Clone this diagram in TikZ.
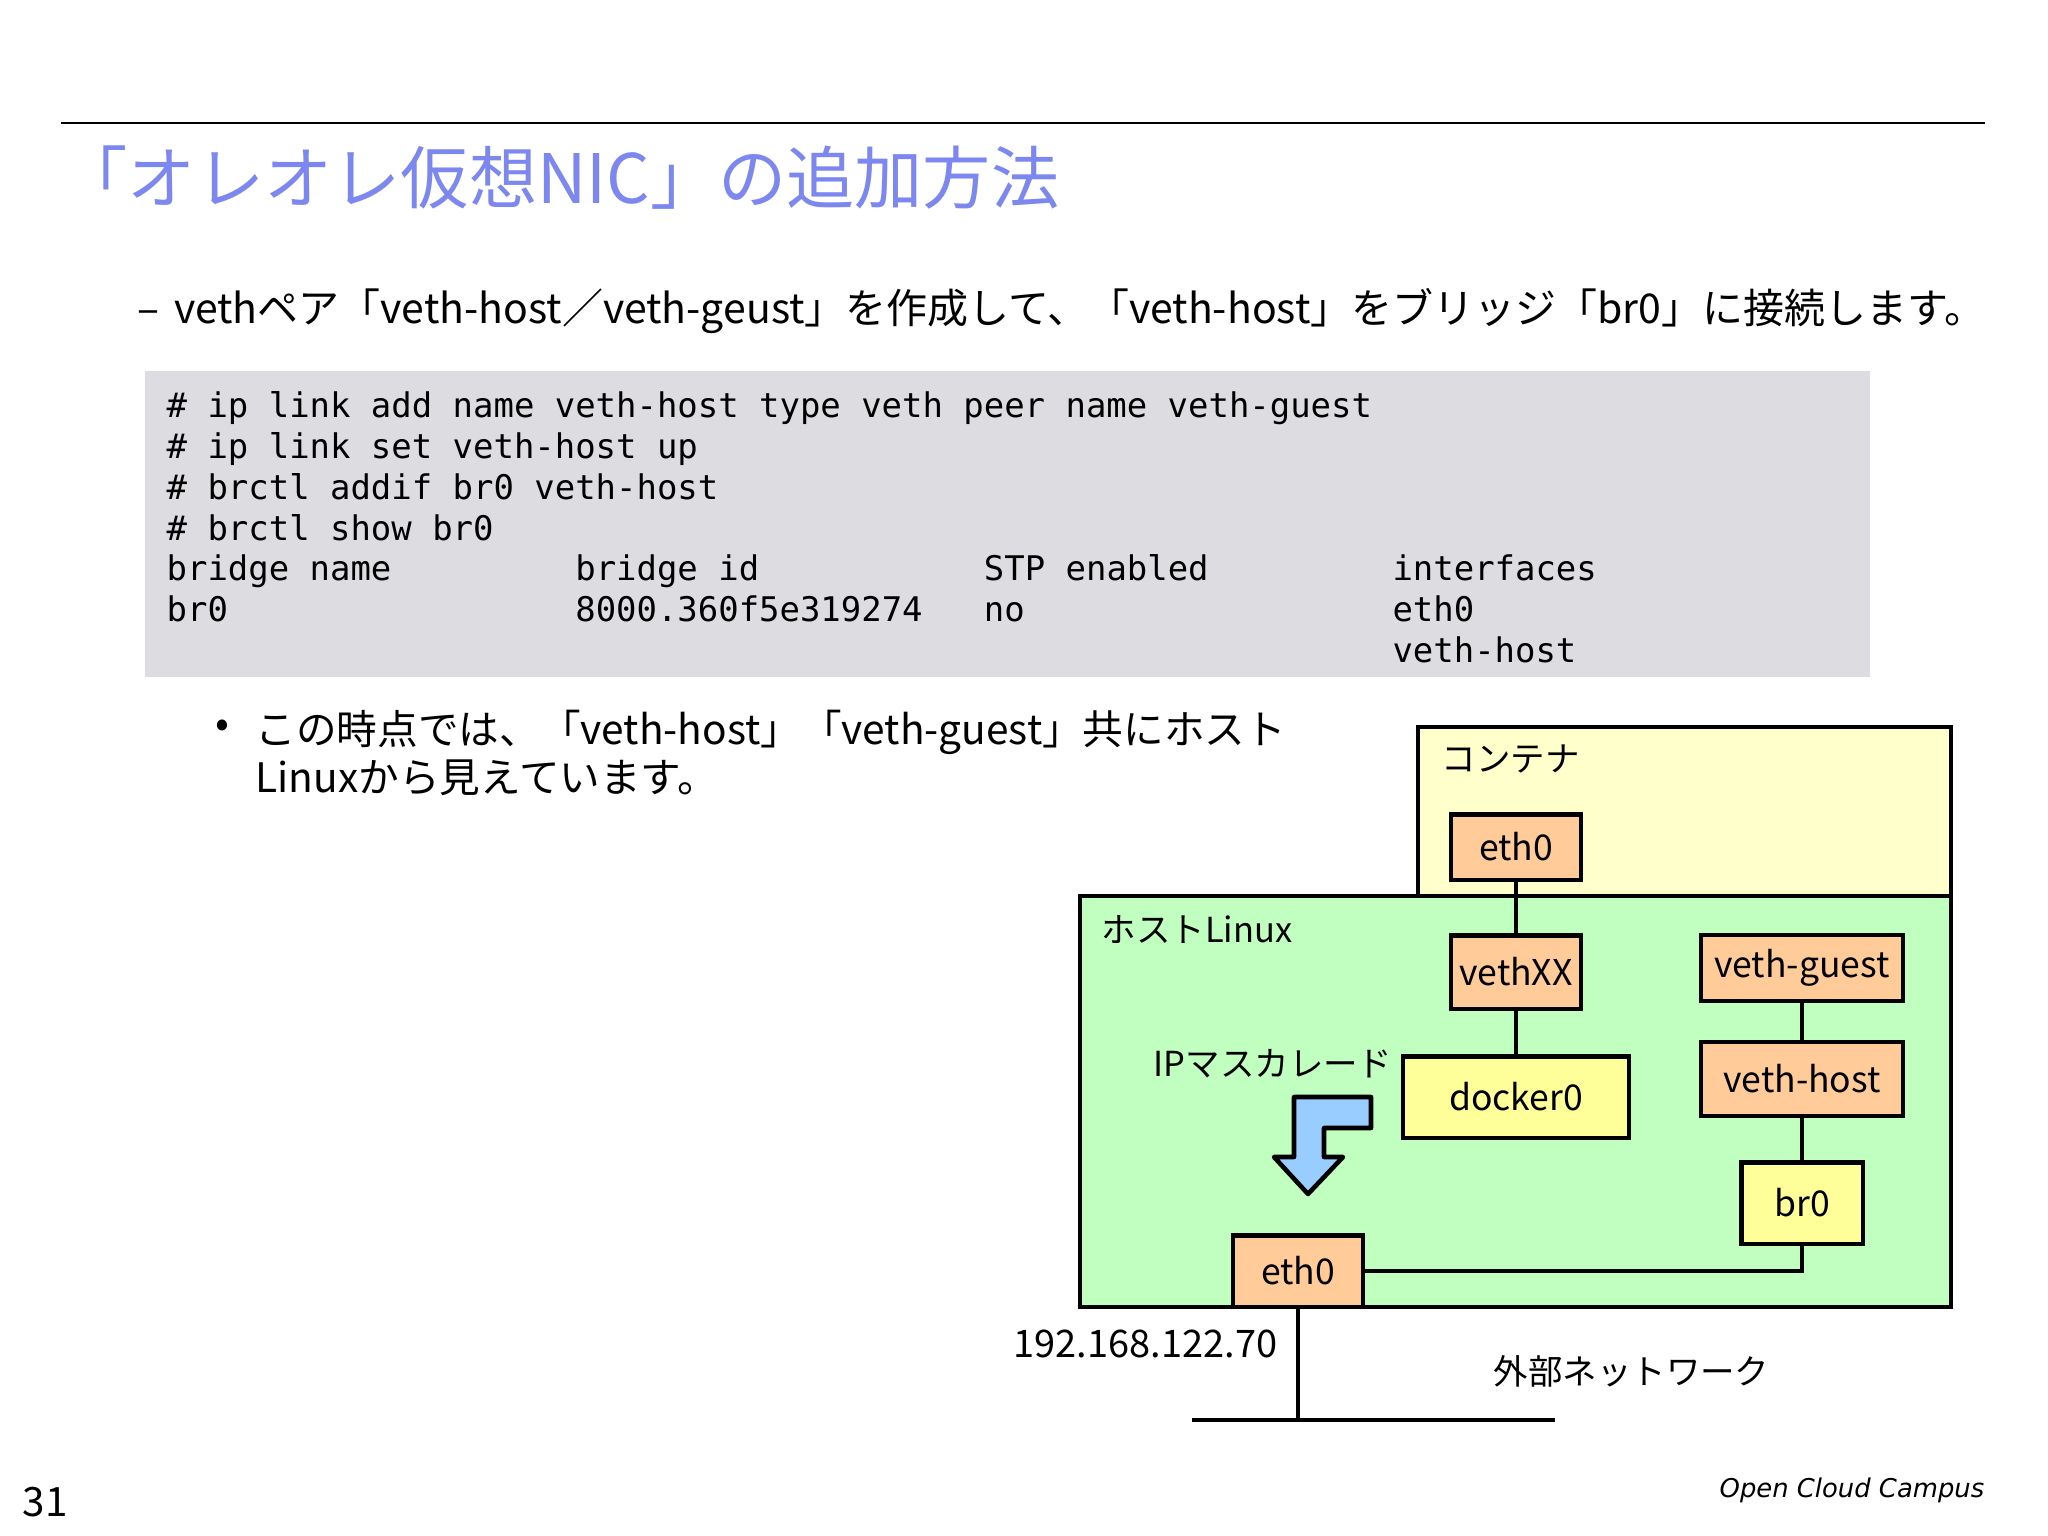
\documentclass[tikz,border=0pt]{standalone}
\usepackage{fontspec}
\setmainfont{Noto Sans CJK JP}
\setsansfont{Noto Sans CJK JP}
\setmonofont{DejaVu Sans Mono}
\newfontfamily\footfont{DejaVu Sans}

\definecolor{titleblue}{RGB}{125,135,240}
\definecolor{codegray}{RGB}{221,220,224}
\definecolor{contyellow}{RGB}{255,255,204}
\definecolor{hostgreen}{RGB}{192,255,192}
\definecolor{nicorange}{RGB}{255,204,153}
\definecolor{bryellow}{RGB}{255,255,153}
\definecolor{masqblue}{RGB}{153,204,255}

\newcommand\bodysize{\fontsize{11.65}{13.7}\selectfont}
\newcommand\figsize{\fontsize{9.8}{12}\selectfont}
\newcommand\boxsize{\fontsize{10.1}{12}\selectfont}
\newcommand\tcell[1]{\makebox[20\fontcharwd\font`0][l]{#1}}

\begin{document}
\begin{tikzpicture}[x=0.01cm, y=-0.01cm,
    lbl/.style={anchor=west, inner sep=0pt, font=\bodysize},
    figlbl/.style={lbl, font=\figsize},
    nic/.style={draw, line width=1.15pt, fill=nicorange, inner sep=0pt, font=\boxsize},
    brg/.style={nic, fill=bryellow},
    link/.style={line width=1.15pt}]
  \fill[white] (0,0) rectangle (2048,1536);
  \useasboundingbox (0,0) rectangle (2048,1536);

  % heading
  \draw[line width=0.75pt] (61,123) -- (1985,123);
  \node[anchor=west, inner sep=0pt, text=titleblue, font=\fontsize{19.4}{22}\selectfont] (title) at (59,178) {「オレオレ仮想NIC」の追加方法};

  \node[lbl] (lead) at (137,311) {–\hspace{0.35em}vethペア「veth-host／veth-geust」を作成して、「veth-host」をブリッジ「br0」に接続します。};

  % commands
  \fill[codegray] (145,371) rectangle (1870,677);
  \node[anchor=north west, inner sep=0pt, align=left, font=\ttfamily\fontsize{9.65}{11.6}\selectfont] (code) at (166,391) {%
    \# ip link add name veth-host type veth peer name veth-guest\\
    \# ip link set veth-host up\\
    \# brctl addif br0 veth-host\\
    \# brctl show br0\\
    \tcell{bridge name}\tcell{bridge id}\tcell{STP enabled}interfaces\\
    \tcell{br0}\tcell{8000.360f5e319274}\tcell{no}eth0\\
    \tcell{}\tcell{}\tcell{}veth-host};

  \node[anchor=center, inner sep=0pt, font=\bodysize] (dot) at (222,729) {•};
  \node[lbl, align=left, font=\fontsize{11.55}{13.7}\selectfont] (note) at (255,753) {この時点では、「veth-host」「veth-guest」共にホスト\\Linuxから見えています。};

  % container and host
  \draw[line width=1.15pt, fill=contyellow] (1418,727) rectangle (1951,896);
  \node[figlbl] (contlabel) at (1441,759) {コンテナ};
  \draw[line width=1.15pt, fill=hostgreen] (1080,896) rectangle (1951,1307);
  \node[figlbl] (hostlabel) at (1101,929) {ホストLinux};
  \node[figlbl] (masq) at (1153,1064) {IPマスカレード};
  \draw[line width=1.3pt, line join=round, fill=masqblue] (1294,1097) -- (1371,1097) -- (1371,1128) -- (1324,1128)
    -- (1324,1157) -- (1343,1157) -- (1308,1194) -- (1274,1157) -- (1294,1157) -- cycle;

  \node[nic, minimum width=1.30cm, minimum height=0.65cm] (ceth) at (1516,847) {eth0};
  \node[nic, minimum width=1.30cm, minimum height=0.73cm] (vethxx) at (1516,972) {vethXX};
  \node[nic, minimum width=2.02cm, minimum height=0.66cm] (vguest) at (1802,968) {veth-guest};
  \node[nic, minimum width=2.02cm, minimum height=0.74cm] (vhost) at (1802,1079) {veth-host};
  \node[brg, minimum width=2.26cm, minimum height=0.81cm] (docker) at (1516,1097) {docker0};
  \node[brg, minimum width=1.21cm, minimum height=0.81cm] (br) at (1802,1203) {br0};
  \node[nic, minimum width=1.29cm, minimum height=0.71cm] (heth) at (1298,1271) {eth0};

  \draw[link] (ceth) -- (vethxx);
  \draw[link] (vethxx) -- (docker);
  \draw[link] (vguest) -- (vhost);
  \draw[link] (vhost) -- (br);
  \draw[link] (heth) -| (br);

  % outside
  \coordinate (tap) at (1298,1420);
  \coordinate (lanwest) at (1192,1420);
  \coordinate (laneast) at (1555,1420);
  \draw[link] (heth) -- (tap);
  \draw[link] (lanwest) -- (laneast);
  \node[figlbl, font=\fontsize{10.8}{12}\selectfont] (ipaddr) at (1013,1344) {192.168.122.70};
  \node[figlbl] (extnet) at (1493,1371) {外部ネットワーク};

  % footer
  \node[lbl, font=\fontsize{11.5}{13}\selectfont] (pagenum) at (22,1502) {31};
  \node[anchor=east, inner sep=0pt, font=\footfont\itshape\fontsize{7.35}{9}\selectfont] (campus) at (1985,1490) {Open Cloud Campus};
\end{tikzpicture}
\end{document}
